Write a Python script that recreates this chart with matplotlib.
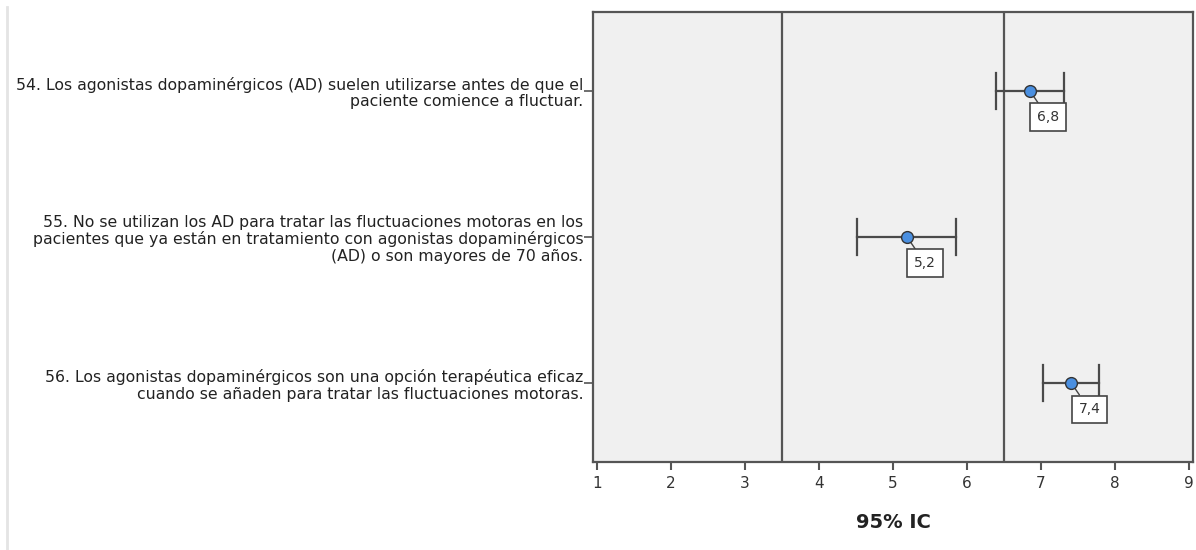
import matplotlib
matplotlib.use("Agg")
import matplotlib.pyplot as plt
from matplotlib.lines import Line2D

items = [
    "54. Los agonistas dopaminérgicos (AD) suelen utilizarse antes de que el\npaciente comience a fluctuar.",
    "55. No se utilizan los AD para tratar las fluctuaciones motoras en los\npacientes que ya están en tratamiento con agonistas dopaminérgicos\n(AD) o son mayores de 70 años.",
    "56. Los agonistas dopaminérgicos son una opción terapéutica eficaz\ncuando se añaden para tratar las fluctuaciones motoras.",
]
means = [6.85, 5.19, 7.41]
ci_low = [6.39, 4.52, 7.03]
ci_high = [7.31, 5.85, 7.79]
mean_labels = ["6,8", "5,2", "7,4"]
ref_lines = [3.5, 6.5]
xticks = [1, 2, 3, 4, 5, 6, 7, 8, 9]

plt.rcParams['font.family'] = ['DejaVu Sans']

fig = plt.figure(figsize=(11.96, 5.5), dpi=100)
ax = fig.add_axes([593/1196, 1-462/550, 600/1196, 450/550])
ax.set_facecolor('#f0f0f0')

edge = '#555555'
for x in ref_lines:
    ax.axvline(x, color=edge, lw=1.6, zorder=1)

ypos = list(range(len(items)))
for y, m, lo, hi, lab in zip(ypos, means, ci_low, ci_high, mean_labels):
    ax.plot([lo, hi], [y, y], color='#4a4a4a', lw=1.6, zorder=2)
    ax.plot([lo, lo], [y-0.125, y+0.125], color='#4a4a4a', lw=1.6, zorder=2)
    ax.plot([hi, hi], [y-0.125, y+0.125], color='#4a4a4a', lw=1.6, zorder=2)
    ax.annotate(lab, xy=(m, y), xytext=(13, -19), textcoords='offset points',
                ha='center', va='center', fontsize=10, color='#333333',
                bbox=dict(boxstyle='square,pad=0.5', fc='white', ec='#444444', lw=1.2),
                arrowprops=dict(arrowstyle='-', color='#444444', lw=1.0,
                                shrinkA=0, shrinkB=0),
                zorder=3)
    ax.plot([m], [y], 'o', ms=8.5, mfc='#4a8fe0', mec='#333333', mew=1.0, zorder=5)

ax.set_xlim(1-4/74, 9+4/74)
ax.set_ylim(2.54, -0.54)
ax.set_xticks(xticks)
ax.set_xticklabels([str(t) for t in xticks], fontsize=11, color='#333333')
ax.set_yticks(ypos)
ax.set_yticklabels(items, fontsize=11.3, color='#222222', ha='right', linespacing=1.12)
ax.tick_params(axis='x', length=6, width=1.5, color=edge, pad=4)
ax.tick_params(axis='y', length=6.5, width=1.2, color=edge, pad=0.5)
for s in ax.spines.values():
    s.set_color(edge)
    s.set_linewidth(1.6)
ax.set_xlabel("95% IC", fontsize=14, fontweight='bold', color='#222222', labelpad=16)

fig.add_artist(Line2D([7/1196, 7/1196], [0, 1-7/550], transform=fig.transFigure,
                      color='#e4e4e4', lw=2))

fig.savefig("out.png", dpi=100)
